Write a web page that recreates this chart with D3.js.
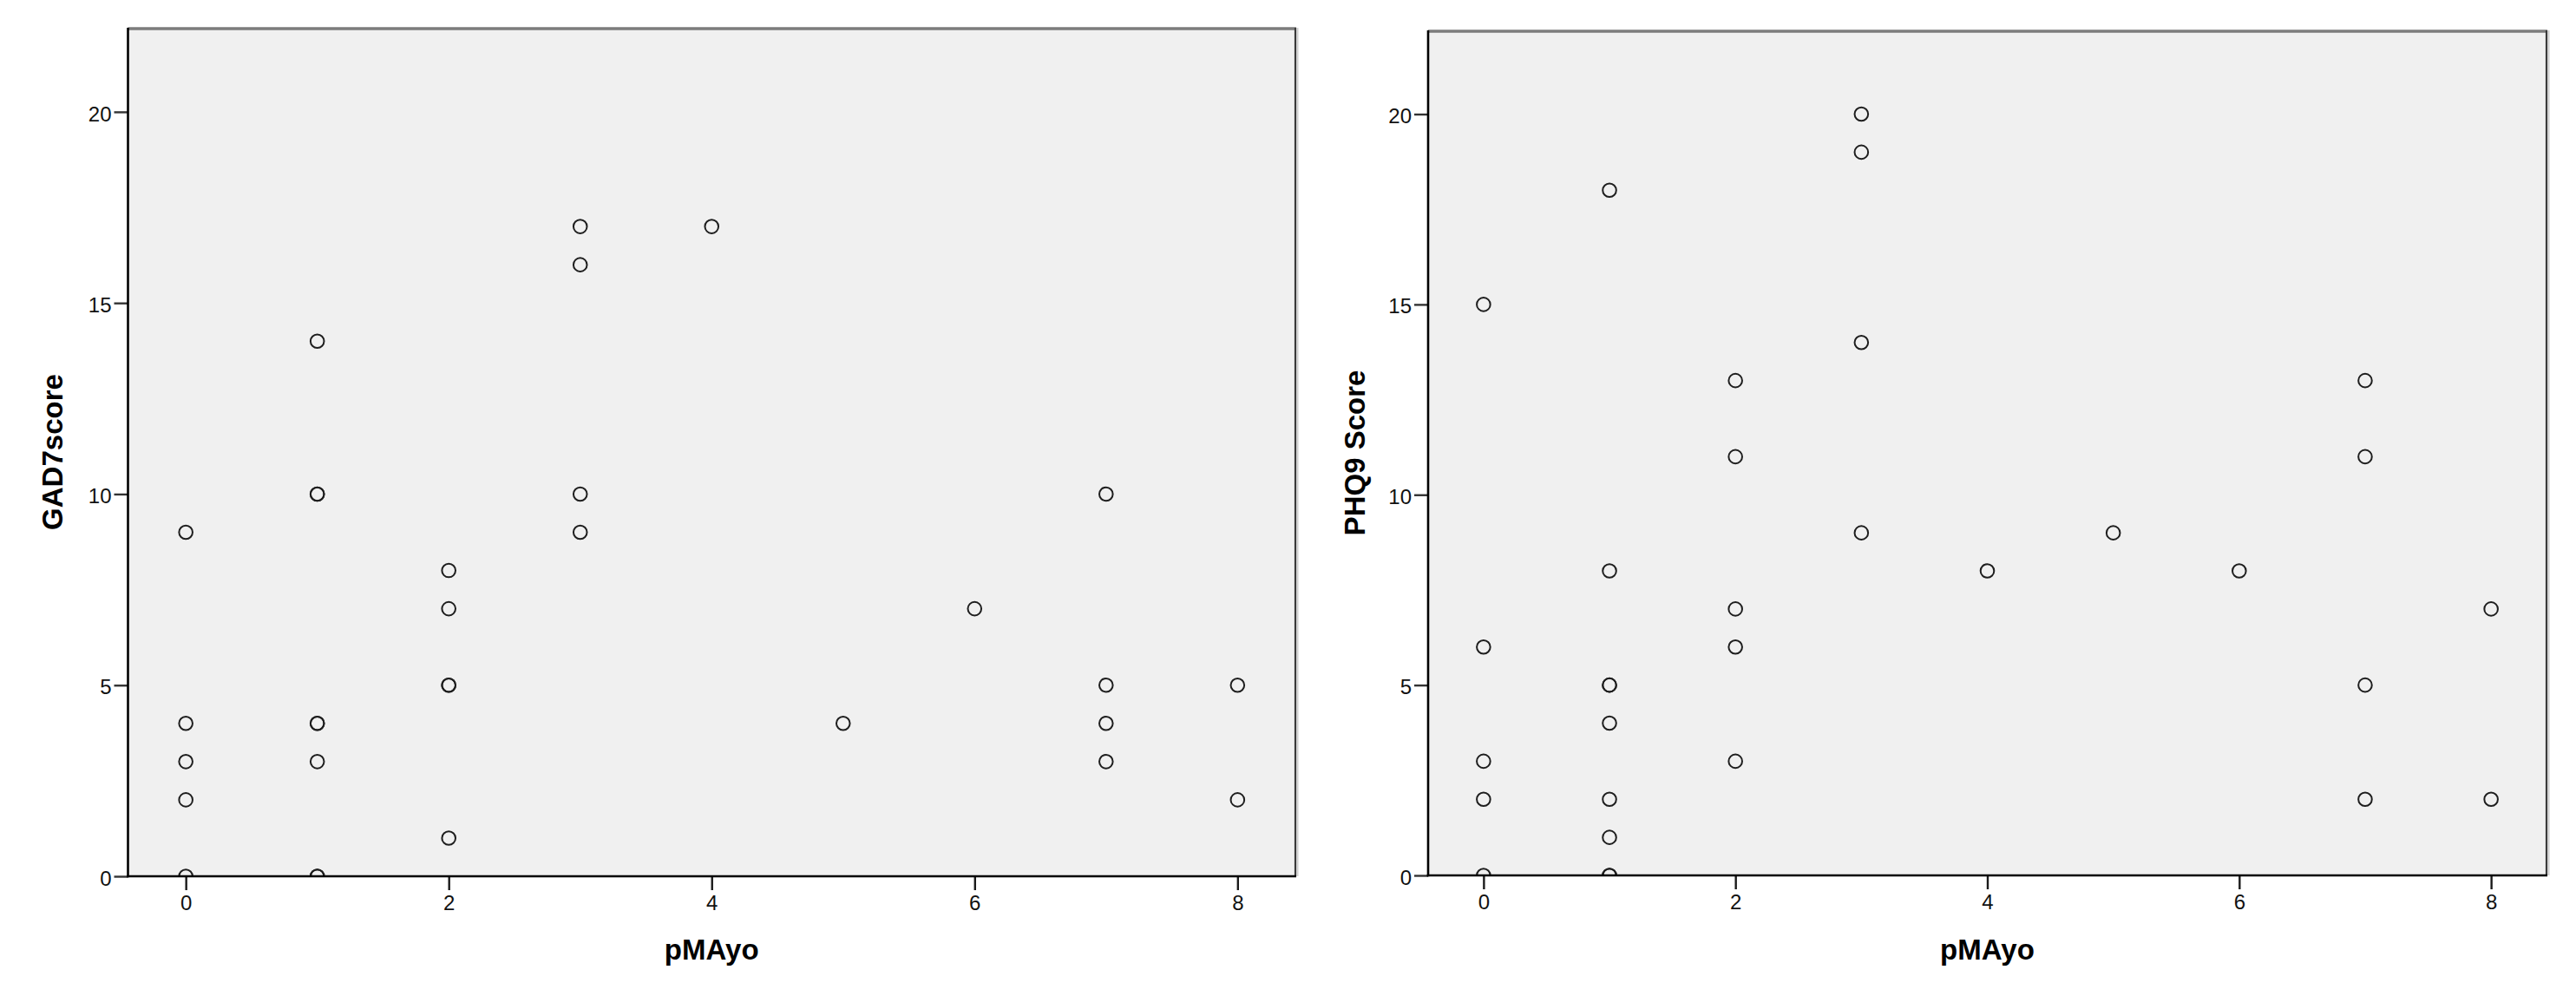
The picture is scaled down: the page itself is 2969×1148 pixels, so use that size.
<!DOCTYPE html>
<html>
<head>
<meta charset="utf-8">
<script src="https://cdn.jsdelivr.net/npm/d3@7"></script>
<style>
  html, body { margin: 0; padding: 0; background: #fff; }
  svg { display: block; }
</style>
</head>
<body>
<div id="chart"></div>
<script>
// pMAyo vs GAD7score (duplicated pairs are listed twice, they overlap)
const gadPMAyo = [0, 0, 0, 0, 0, 1, 1, 1, 1, 1, 1, 1, 1, 2, 2, 2, 2, 2, 3, 3, 3, 3, 4, 5, 6, 7, 7, 7, 7, 8, 8];
const gadScore = [9, 4, 3, 2, 0, 14, 10, 10, 4, 4, 3, 0, 0, 8, 7, 5, 5, 1, 17, 16, 10, 9, 17, 4, 7, 10, 5, 4, 3, 5, 2];

// pMAyo vs PHQ9 Score
const phqPMAyo = [0, 0, 0, 0, 0, 1, 1, 1, 1, 1, 1, 1, 1, 1, 2, 2, 2, 2, 2, 3, 3, 3, 3, 4, 5, 6, 7, 7, 7, 7, 8, 8];
const phqScore = [15, 6, 3, 2, 0, 18, 8, 5, 5, 4, 2, 1, 0, 0, 13, 11, 7, 6, 3, 20, 19, 14, 9, 8, 9, 8, 13, 11, 5, 2, 7, 2];

const xTicks = [0, 2, 4, 6, 8];
const yTicks = [0, 5, 10, 15, 20];
const xDomain = [-0.44, 8.44];
const yDomain = [0, 22.2];

const W = 2969, H = 1148;
const svg = d3.select('#chart').append('svg')
  .attr('width', W).attr('height', H)
  .style('font-family', '"Liberation Sans", Arial, sans-serif');

function drawPanel(id, box, xs, ys, yTitle) {
  const x = d3.scaleLinear().domain(xDomain).range([box.left, box.right]);
  const y = d3.scaleLinear().domain(yDomain).range([box.bottom, box.top]);
  const g = svg.append('g').attr('class', id);

  g.append('clipPath').attr('id', `clip-${id}`)
    .append('rect')
    .attr('x', box.left).attr('y', box.top)
    .attr('width', box.right - box.left).attr('height', box.bottom - box.top);

  // plot background + frame (SPSS style: grey top, shaded right)
  g.append('rect')
    .attr('x', box.left).attr('y', box.top)
    .attr('width', box.right - box.left).attr('height', box.bottom - box.top)
    .attr('fill', '#f0f0f0');
  g.append('line')
    .attr('x1', box.left).attr('x2', box.right + 1)
    .attr('y1', box.top + 1).attr('y2', box.top + 1)
    .attr('stroke', '#7c7c7c').attr('stroke-width', 3.5);
  g.append('line')
    .attr('x1', box.right + 2.5).attr('x2', box.right + 2.5)
    .attr('y1', box.top).attr('y2', box.bottom)
    .attr('stroke', '#cfcfcf').attr('stroke-width', 2);
  g.append('line')
    .attr('x1', box.right).attr('x2', box.right)
    .attr('y1', box.top).attr('y2', box.bottom)
    .attr('stroke', '#3a3a3a').attr('stroke-width', 2.2);

  // points
  g.append('g').attr('clip-path', `url(#clip-${id})`)
    .selectAll('circle')
    .data(xs.map((v, i) => [v, ys[i]]))
    .join('circle')
    .attr('cx', d => x(d[0]))
    .attr('cy', d => y(d[1]))
    .attr('r', 7.8)
    .attr('fill', 'none')
    .attr('stroke', '#1e1e1e')
    .attr('stroke-width', 2);

  // axes
  const xAxisG = g.append('g').attr('transform', `translate(0,${box.bottom})`)
    .call(d3.axisBottom(x).tickValues(xTicks).tickSize(16).tickPadding(6).tickSizeOuter(0));
  xAxisG.select('.domain').remove();
  xAxisG.selectAll('.tick line').attr('stroke', '#1a1a1a').attr('stroke-width', 2.4);
  xAxisG.selectAll('text').attr('font-size', 24).attr('fill', '#111');

  const yAxisG = g.append('g').attr('transform', `translate(${box.left},0)`)
    .call(d3.axisLeft(y).tickValues(yTicks).tickSize(16).tickPadding(3).tickSizeOuter(0));
  yAxisG.select('.domain').remove();
  yAxisG.selectAll('.tick line').attr('stroke', '#333').attr('stroke-width', 2.4);
  yAxisG.selectAll('text').attr('font-size', 24).attr('fill', '#111').attr('dy', '0.42em');

  g.append('line')
    .attr('x1', box.left).attr('x2', box.left)
    .attr('y1', box.top).attr('y2', box.bottom + 1.3)
    .attr('stroke', '#000').attr('stroke-width', 2.6);
  g.append('line')
    .attr('x1', box.left - 1.3).attr('x2', box.right + 1)
    .attr('y1', box.bottom).attr('y2', box.bottom)
    .attr('stroke', '#000').attr('stroke-width', 2.6);

  // titles
  g.append('text')
    .attr('x', (box.left + box.right) / 2).attr('y', 1106)
    .attr('text-anchor', 'middle')
    .attr('font-size', 33).attr('font-weight', 'bold').attr('fill', '#000')
    .text('pMAyo');

  g.append('text')
    .attr('transform', `translate(${box.titleX},${(box.top + box.bottom) / 2 + 0}) rotate(-90)`)
    .attr('text-anchor', 'middle')
    .attr('font-size', 33).attr('font-weight', 'bold').attr('fill', '#000')
    .text(yTitle);
}

drawPanel('gad', { left: 147.5, right: 1493, top: 32, bottom: 1010, titleX: 72 },
  gadPMAyo, gadScore, 'GAD7score');
drawPanel('phq', { left: 1646, right: 2935, top: 35, bottom: 1009, titleX: 1573 },
  phqPMAyo, phqScore, 'PHQ9 Score');
</script>
</body>
</html>
